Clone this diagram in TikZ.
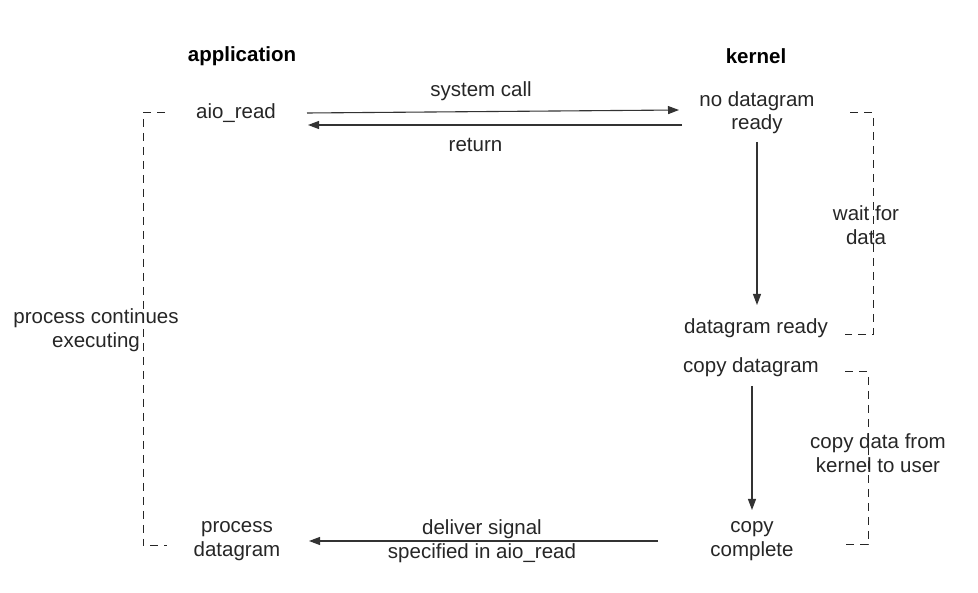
\documentclass[tikz,border=0pt]{standalone}
\usepackage{fontspec}
\setmainfont{Liberation Sans}
\usetikzlibrary{arrows.meta}
\begin{document}
\begin{tikzpicture}[x=1pt,y=-1pt,
  lbl/.style={inner sep=0pt, align=center, font=\fontsize{20.5}{23.5}\selectfont, text=black!85},
  hdr/.style={lbl, font=\fontsize{20.5}{23.5}\selectfont\bfseries, text=black},
  conn/.style={draw=black!80, line width=1.1pt, -{Triangle[length=11pt,width=8pt]}},
  bracket/.style={draw=black!85, line width=1pt, dash pattern=on 8pt off 6pt}]
\useasboundingbox (0,0) rectangle (978,593);
% headers
\node[hdr] (app) at (242,56) {application};
\node[hdr] (kern) at (756,56) {kernel};
% application side
\node[lbl] (aio) at (236,113) {aio\_read};
\node[lbl] (proc) at (237,541) {process\\datagram};
% kernel side
\node[lbl] (nodg) at (757,112.5) {no datagram\\ready};
\node[lbl] (dgr) at (756,328) {datagram ready};
\node[lbl] (cpd) at (751,367) {copy datagram};
\node[lbl] (cpc) at (752,541) {copy\\complete};
% connector labels
\node[lbl] (sclbl) at (481,91) {system call};
\node[lbl] (retlbl) at (475.5,145) {return};
\node[lbl] (siglbl) at (482,541) {deliver signal\\specified in aio\_read};
% bracket labels
\node[lbl] (contlbl) at (96,330) {process continues\\executing};
\node[lbl] (waitlbl) at (866,225) {wait for\\data};
\node[lbl] (copylbl) at (878,453) {copy data from\\kernel to user};
% connector end points
\coordinate (scA) at (307,113);
\coordinate (scB) at (679,110);
\coordinate (retA) at (682,125);
\coordinate (retB) at (308,125);
\coordinate (d1A) at (757,142);
\coordinate (d1B) at (757,305);
\coordinate (d2A) at (752,386);
\coordinate (d2B) at (752,510);
\coordinate (sigA) at (658,541);
\coordinate (sigB) at (309,541);
\draw[conn] (scA) -- (scB);
\draw[conn] (retA) -- (retB);
\draw[conn] (d1A) -- (d1B);
\draw[conn] (d2A) -- (d2B);
\draw[conn] (sigA) -- (sigB);
% dashed brackets
\coordinate (lb1) at (165,113);
\coordinate (lb2) at (143,113);
\coordinate (lb3) at (143,546);
\coordinate (lb4) at (167,546);
\draw[bracket] (lb1) -- (lb2) -- (lb3) -- (lb4);
\coordinate (ra1) at (850,113);
\coordinate (ra2) at (873,113);
\coordinate (ra3) at (873,335);
\coordinate (ra4) at (845,335);
\draw[bracket] (ra1) -- (ra2) -- (ra3) -- (ra4);
\coordinate (rb1) at (845,372);
\coordinate (rb2) at (868,372);
\coordinate (rb3) at (868,545);
\coordinate (rb4) at (845,545);
\draw[bracket] (rb1) -- (rb2) -- (rb3) -- (rb4);
\end{tikzpicture}
\end{document}
